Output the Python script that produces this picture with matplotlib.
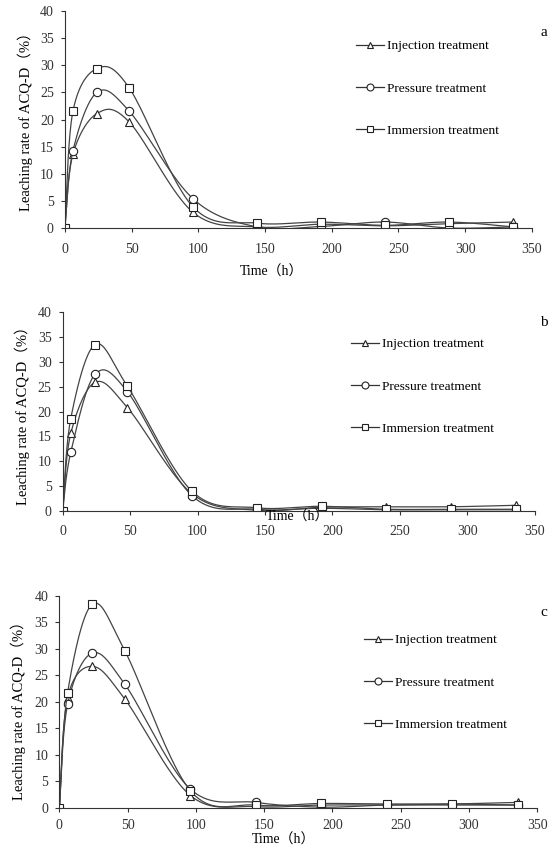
import numpy as np
import matplotlib
matplotlib.use("Agg")
import matplotlib.pyplot as plt
from matplotlib.lines import Line2D

plt.rcParams['font.family'] = ['Liberation Serif', 'Noto Sans CJK SC']
plt.rcParams['font.size'] = 9

hours = [0, 6, 24, 48, 96, 144, 192, 240, 288, 336]

# panel a
a_injection = [0, 13.6, 21.1, 19.6, 2.9, 0.2, 0.7, 0.4, 0.8, 1.1]
a_pressure = [0, 14.2, 25.0, 21.6, 5.4, 0.2, 0.3, 1.1, 0.0, 0.2]
a_immersion = [0, 21.5, 29.4, 25.9, 3.9, 0.9, 1.1, 0.5, 1.1, 0.2]
# panel b
b_injection = [0, 15.6, 25.9, 20.8, 3.4, 0.1, 0.7, 0.8, 0.8, 1.1]
b_pressure = [0, 11.8, 27.5, 24.0, 3.0, 0.3, 0.5, 0.2, 0.2, 0.2]
b_immersion = [0, 18.6, 33.5, 25.1, 3.9, 0.6, 0.9, 0.3, 0.3, 0.3]
# panel c
c_injection = [0, 20.8, 26.7, 20.5, 2.3, 0.2, 0.5, 0.5, 0.7, 1.0]
c_pressure = [0, 19.5, 29.2, 23.3, 3.5, 1.0, 0.1, 0.5, 0.5, 0.5]
c_immersion = [0, 21.7, 38.4, 29.6, 3.2, 0.5, 0.8, 0.7, 0.7, 0.5]

labels = ['Injection treatment', 'Pressure treatment', 'Immersion treatment']
markers = ['^', 'o', 's']


def smooth(x, y, n=40):
    # excel-like smoothed line (bezier through the points)
    x = np.asarray(x, float)
    y = np.asarray(y, float)
    px = np.concatenate([[x[0]], x, [x[-1]]])
    py = np.concatenate([[y[0]], y, [y[-1]]])
    t = np.linspace(0, 1, n)
    xs, ys = [], []
    for i in range(1, len(px) - 2):
        p0 = np.array([px[i], py[i]])
        p3 = np.array([px[i + 1], py[i + 1]])
        p1 = p0 + (np.array([px[i + 1], py[i + 1]]) - np.array([px[i - 1], py[i - 1]])) / 6
        p2 = p3 - (np.array([px[i + 2], py[i + 2]]) - np.array([px[i], py[i]])) / 6
        b = ((1 - t) ** 3)[:, None] * p0 + (3 * (1 - t) ** 2 * t)[:, None] * p1 \
            + (3 * (1 - t) * t ** 2)[:, None] * p2 + (t ** 3)[:, None] * p3
        xs.append(b[:, 0])
        ys.append(b[:, 1])
    return np.concatenate(xs), np.concatenate(ys)


fig = plt.figure(figsize=(5.5, 8.47), dpi=100)

panels = [
    dict(rect=[0.118, 0.7308, 0.849, 0.2562], data=[a_injection, a_pressure, a_immersion], xpad=7.5,
         letter='a', letter_xy=(544, 33), leg_xy=(356, 40), xlab_xy=(271, 272), ylab_xy=(25, 118)),
    dict(rect=[0.114, 0.397, 0.858, 0.2342], data=[b_injection, b_pressure, b_immersion], xpad=7.5,
         letter='b', letter_xy=(544, 322), leg_xy=(351, 338), xlab_xy=(298, 517), ylab_xy=(22, 412)),
    dict(rect=[0.108, 0.0464, 0.8685, 0.25], data=[c_injection, c_pressure, c_immersion], xpad=5,
         letter='c', letter_xy=(544, 612), leg_xy=(364, 634), xlab_xy=(284, 840), ylab_xy=(18, 707)),
]

for p in panels:
    ax = fig.add_axes(p['rect'])
    for vals, m in zip(p['data'], markers):
        sx, sy = smooth(hours, vals)
        ax.plot(sx, sy, color='#444444', lw=0.9)
        ax.plot(hours, vals, linestyle='none', marker=m, ms=6, mfc='white',
                mec='#222222', mew=0.8)
    ax.set_xlim(0, 350)
    ax.set_ylim(0, 40)
    ax.set_xticks(range(0, 351, 50))
    ax.set_yticks(range(0, 41, 5))
    ax.spines['top'].set_visible(False)
    ax.spines['right'].set_visible(False)
    ax.spines['left'].set_color('#333333')
    ax.spines['bottom'].set_color('#333333')
    ax.tick_params(direction='out', length=3, width=0.8, colors='#333333', labelsize=10)
    ax.tick_params(axis='x', pad=p['xpad'])
    ax.tick_params(axis='y', pad=5)
    ax.patch.set_alpha(0)

    handles = [Line2D([0], [0], color='#333333', lw=0.9, marker=m, ms=5, mfc='white',
                      mec='#222222', mew=0.8) for m in markers]
    fx = p['leg_xy'][0] / 550
    fy = 1 - p['leg_xy'][1] / 847
    fig.legend(handles, labels, loc='upper left', bbox_to_anchor=(fx, fy), frameon=False,
               fontsize=9.6, handlelength=2.1, handletextpad=0.2, labelspacing=2.25,
               borderpad=0, borderaxespad=0)

    fig.text(p['letter_xy'][0] / 550, 1 - p['letter_xy'][1] / 847, p['letter'],
             fontsize=11, ha='center', va='center')
    fig.text(p['xlab_xy'][0] / 550, 1 - p['xlab_xy'][1] / 847, 'Time（h）',
             fontsize=10, ha='center', va='center')
    fig.text(p['ylab_xy'][0] / 550, 1 - p['ylab_xy'][1] / 847, 'Leaching rate of ACQ-D（%）',
             fontsize=10.5, ha='center', va='center', rotation=90)

fig.savefig('out.png', dpi=100)
